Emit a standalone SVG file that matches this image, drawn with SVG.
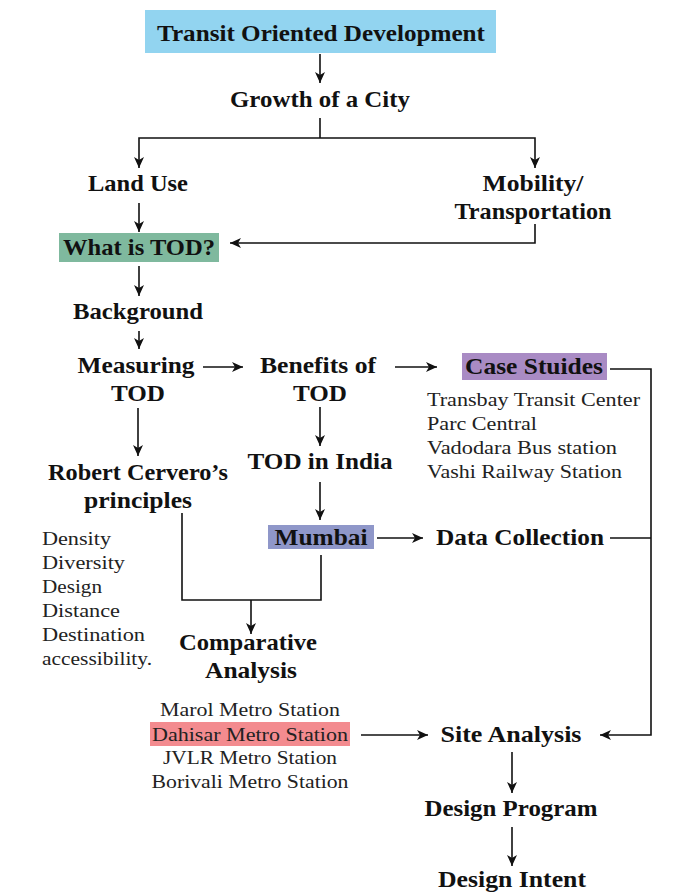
<svg xmlns="http://www.w3.org/2000/svg" width="693" height="893" viewBox="0 0 693 893">
<style>
.b{font-family:"Liberation Serif","Times New Roman",serif;font-weight:bold;font-size:23px;fill:#111;text-anchor:middle}
.r{font-family:"Liberation Serif","Times New Roman",serif;font-size:19.5px;fill:#222}
.c{text-anchor:middle}
.ln{fill:none;stroke:#111;stroke-width:1.6}
.ar{marker-end:url(#ah)}
</style>
<defs>
<marker id="ah" markerUnits="userSpaceOnUse" markerWidth="12" markerHeight="11" refX="11" refY="5" orient="auto">
<path d="M0,0 L11,5 L0,10 L3,5 Z" fill="#111"/>
</marker>
</defs>
<rect width="693" height="893" fill="#fff"/>

<g id="connectors">
<path class="ln ar" d="M320,54 V83"/>
<path class="ln" d="M320,118 V138"/>
<path class="ln ar" d="M320,138 H139 V168"/>
<path class="ln ar" d="M320,138 H535 V168"/>
<path class="ln ar" d="M139,203 V232"/>
<path class="ln ar" d="M535,224 V243 H230"/>
<path class="ln ar" d="M139,266 V296"/>
<path class="ln ar" d="M139,331 V349"/>
<path class="ln ar" d="M203,367 H243"/>
<path class="ln ar" d="M395,367 H437"/>
<path class="ln ar" d="M610,369 H651 V735 H600"/>
<path class="ln" d="M610,538 H651"/>
<path class="ln ar" d="M138,408 V456"/>
<path class="ln ar" d="M320,407 V446"/>
<path class="ln ar" d="M320,482 V520"/>
<path class="ln ar" d="M377,538 H423"/>
<path class="ln" d="M182,513 V600 H321 V555"/>
<path class="ln ar" d="M251,600 V634"/>
<path class="ln ar" d="M361,735 H428"/>
<path class="ln ar" d="M512,752 V793"/>
<path class="ln ar" d="M512,827 V866"/>
</g>

<g id="tod">
<rect x="145" y="10" width="351" height="43" fill="#92D4F0"/>
<text class="b" x="321" y="41" textLength="328" lengthAdjust="spacingAndGlyphs">Transit Oriented Development</text>
</g>
<g id="growth"><text class="b" x="320" y="107" textLength="180" lengthAdjust="spacingAndGlyphs">Growth of a City</text></g>
<g id="landuse"><text class="b" x="138" y="191" textLength="100" lengthAdjust="spacingAndGlyphs">Land Use</text></g>
<g id="mobility">
<text class="b" x="533" y="191" textLength="101" lengthAdjust="spacingAndGlyphs">Mobility/</text>
<text class="b" x="533" y="219" textLength="157" lengthAdjust="spacingAndGlyphs">Transportation</text>
</g>
<g id="whatis">
<rect x="59" y="233" width="160" height="29" fill="#7FB99E"/>
<text class="b" x="139" y="255" textLength="152" lengthAdjust="spacingAndGlyphs">What is TOD?</text>
</g>
<g id="background"><text class="b" x="138" y="319" textLength="130" lengthAdjust="spacingAndGlyphs">Background</text></g>
<g id="measuring">
<text class="b" x="136" y="373" textLength="117" lengthAdjust="spacingAndGlyphs">Measuring</text>
<text class="b" x="138" y="401" textLength="54" lengthAdjust="spacingAndGlyphs">TOD</text>
</g>
<g id="benefits">
<text class="b" x="318" y="373" textLength="116" lengthAdjust="spacingAndGlyphs">Benefits of</text>
<text class="b" x="320" y="401" textLength="54" lengthAdjust="spacingAndGlyphs">TOD</text>
</g>
<g id="casestudies">
<rect x="462" y="353" width="145" height="27" fill="#A98BC4"/>
<text class="b" x="534" y="374" textLength="138" lengthAdjust="spacingAndGlyphs">Case Stuides</text>
<text class="r" x="427" y="406" textLength="213" lengthAdjust="spacingAndGlyphs">Transbay Transit Center</text>
<text class="r" x="427" y="430" textLength="110" lengthAdjust="spacingAndGlyphs">Parc Central</text>
<text class="r" x="427" y="454" textLength="190" lengthAdjust="spacingAndGlyphs">Vadodara Bus station</text>
<text class="r" x="427" y="478" textLength="195" lengthAdjust="spacingAndGlyphs">Vashi Railway Station</text>
</g>
<g id="cervero">
<text class="b" x="138" y="480" textLength="180" lengthAdjust="spacingAndGlyphs">Robert Cervero’s</text>
<text class="b" x="138" y="508" textLength="108" lengthAdjust="spacingAndGlyphs">principles</text>
<text class="r" x="42" y="545" textLength="69" lengthAdjust="spacingAndGlyphs">Density</text>
<text class="r" x="42" y="569" textLength="83" lengthAdjust="spacingAndGlyphs">Diversity</text>
<text class="r" x="42" y="593" textLength="60" lengthAdjust="spacingAndGlyphs">Design</text>
<text class="r" x="42" y="617" textLength="78" lengthAdjust="spacingAndGlyphs">Distance</text>
<text class="r" x="42" y="641" textLength="103" lengthAdjust="spacingAndGlyphs">Destination</text>
<text class="r" x="42" y="665" textLength="110" lengthAdjust="spacingAndGlyphs">accessibility.</text>
</g>
<g id="india"><text class="b" x="320" y="469" textLength="145" lengthAdjust="spacingAndGlyphs">TOD in India</text></g>
<g id="mumbai">
<rect x="268" y="525" width="106" height="24" fill="#8F97C9"/>
<text class="b" x="321" y="545" textLength="93" lengthAdjust="spacingAndGlyphs">Mumbai</text>
</g>
<g id="datacollection"><text class="b" x="520" y="545" textLength="168" lengthAdjust="spacingAndGlyphs">Data Collection</text></g>
<g id="comparative">
<text class="b" x="248" y="650" textLength="138" lengthAdjust="spacingAndGlyphs">Comparative</text>
<text class="b" x="251" y="678" textLength="92" lengthAdjust="spacingAndGlyphs">Analysis</text>
</g>
<g id="stations">
<rect x="150" y="722" width="200" height="24" fill="#F38B8F"/>
<text class="r c" x="250" y="716" textLength="180" lengthAdjust="spacingAndGlyphs">Marol Metro Station</text>
<text class="r c" x="250" y="741" textLength="196" lengthAdjust="spacingAndGlyphs">Dahisar Metro Station</text>
<text class="r c" x="250" y="764" textLength="174" lengthAdjust="spacingAndGlyphs">JVLR Metro Station</text>
<text class="r c" x="250" y="788" textLength="197" lengthAdjust="spacingAndGlyphs">Borivali Metro Station</text>
</g>
<g id="siteanalysis"><text class="b" x="511" y="742" textLength="141" lengthAdjust="spacingAndGlyphs">Site Analysis</text></g>
<g id="designprogram"><text class="b" x="511" y="816" textLength="173" lengthAdjust="spacingAndGlyphs">Design Program</text></g>
<g id="designintent"><text class="b" x="512" y="887" textLength="148" lengthAdjust="spacingAndGlyphs">Design Intent</text></g>
</svg>
